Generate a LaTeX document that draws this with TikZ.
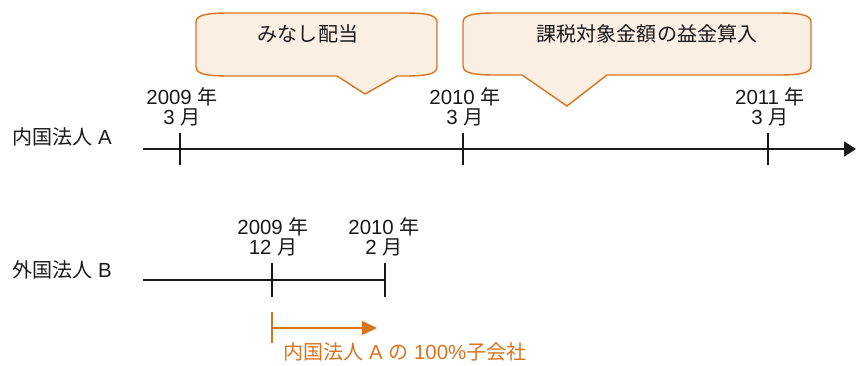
\documentclass[tikz,border=0pt]{standalone}
\usepackage{fontspec}
\setmainfont{Liberation Sans}[Scale=1.12]
\newfontfamily\jpfont{Noto Sans CJK JP}[Scale=1.1]
\usetikzlibrary{arrows.meta}
\definecolor{calloutline}{RGB}{217,115,30}
\definecolor{calloutfill}{RGB}{251,238,226}
\definecolor{ink}{RGB}{25,25,25}
\tikzset{
	txt/.style={font=\fontsize{18.3}{20}\selectfont, text=ink, inner sep=0pt, align=center},
	callout/.style={draw=calloutline, fill=calloutfill, line width=1.4bp},
	axisA/.style={line width=1.8bp, draw=ink},
	axisB/.style={line width=1.3bp, draw=ink},
	span/.style={line width=1.5bp, draw=calloutline}
}

\begin{document}
\begin{tikzpicture}[x=1bp, y=-1bp]
	%%%%% START %%%%%
	\useasboundingbox (0,0) rectangle (856,365);
	
	% callouts
	\draw[callout] (196,22) .. controls (196,14) and (210,13) .. (230,13) -- (403,13)
		.. controls (423,13) and (437,14) .. (437,22) -- (437,67)
		.. controls (437,75) and (423,76) .. (403,76) -- (397,76) -- (365,94) -- (337,76) -- (230,76)
		.. controls (210,76) and (196,75) .. (196,67) -- cycle;
	\node[txt] (deemed) at (308,34) {{\jpfont みなし配当}};
	
	\draw[callout] (463,22) .. controls (463,14) and (477,13) .. (497,13) -- (777,13)
		.. controls (797,13) and (811,14) .. (811,22) -- (811,66)
		.. controls (811,74) and (797,75) .. (777,75) -- (607,75) -- (567,106) -- (522,75) -- (497,75)
		.. controls (477,75) and (463,74) .. (463,66) -- cycle;
	\node[txt] (taxed) at (647,34) {{\jpfont 課税対象金額の益金算入}};
	
	% timeline A
	\node[txt, anchor=west] (corpA) at (12,137) {{\jpfont 内国法人} A};
	\coordinate (a0) at (143,149);
	\coordinate (a1) at (856,149);
	\draw[axisA, -{Triangle[length=12bp, width=15bp]}] (a0) -- (a1);
	\coordinate (a09) at (180,149);
	\coordinate (a10) at (463,149);
	\coordinate (a11) at (768,149);
	\foreach \t in {a09,a10,a11}
		\draw[axisA] ([yshift=16bp]\t) -- ([yshift=-16bp]\t);
	\node[txt] (la09) at (182,107) {2009 {\jpfont 年}\\3 {\jpfont 月}};
	\node[txt] (la10) at (465,107) {2010 {\jpfont 年}\\3 {\jpfont 月}};
	\node[txt] (la11) at (770,107) {2011 {\jpfont 年}\\3 {\jpfont 月}};
	
	% timeline B
	\node[txt, anchor=west] (corpB) at (12,270) {{\jpfont 外国法人} B};
	\coordinate (b0) at (143,280);
	\coordinate (b1) at (385,280);
	\draw[axisB] (b0) -- (b1);
	\coordinate (b09) at (272,280);
	\foreach \t in {b09,b1}
		\draw[axisB] ([yshift=17bp]\t) -- ([yshift=-17bp]\t);
	\node[txt] (lb09) at (273,237) {2009 {\jpfont 年}\\12 {\jpfont 月}};
	\node[txt] (lb10) at (384,237) {2010 {\jpfont 年}\\2 {\jpfont 月}};
	
	% subsidiary period
	\coordinate (s0) at (272,328);
	\coordinate (s1) at (377,328);
	\draw[span] ([yshift=16bp]s0) -- ([yshift=-15bp]s0);
	\draw[span, -{Triangle[length=15bp, width=14bp]}, fill=calloutline] (s0) -- (s1);
	\node[txt, anchor=west, text=calloutline] (sub) at (283,352) {{\jpfont 内国法人} A {\jpfont の} 100\%{\jpfont 子会社}};
	
	%%%%% END %%%%%
\end{tikzpicture}
\end{document}
